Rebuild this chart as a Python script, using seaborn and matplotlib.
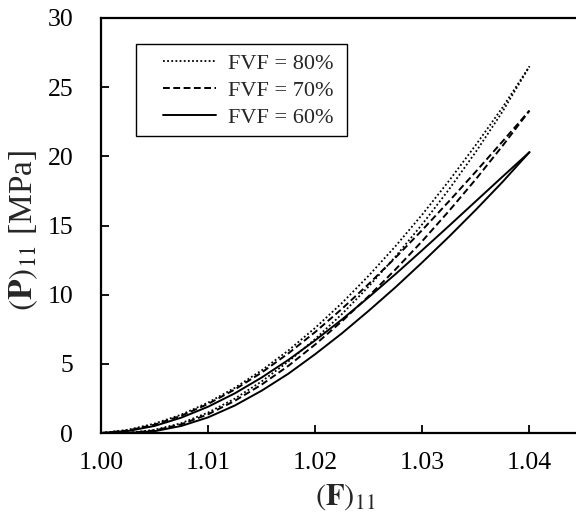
import matplotlib
matplotlib.use("Agg")
import matplotlib.pyplot as plt
from matplotlib.patches import Rectangle
import seaborn as sns
import pandas as pd

# ---- data ----
F_load = [1.0000, 1.0025, 1.0050, 1.0075, 1.0100, 1.0125, 1.0150, 1.0175, 1.0200,
          1.0225, 1.0250, 1.0275, 1.0300, 1.0325, 1.0350, 1.0375, 1.0400]
F_unload = [1.0025, 1.0050, 1.0075, 1.0100, 1.0125, 1.0150, 1.0175, 1.0200,
            1.0225, 1.0250, 1.0275, 1.0300, 1.0325, 1.0350, 1.0375, 1.0400]

load_80 = [0, 0.23, 0.68, 1.33, 2.20, 3.27, 4.53, 5.97, 7.60, 9.40, 11.38, 13.51, 15.80, 18.24, 20.83, 23.55, 26.5]
unload_80 = [0, 0.23, 0.71, 1.48, 2.49, 3.73, 5.17, 6.80, 8.60, 10.60, 12.76, 15.10, 17.62, 20.33, 23.25, 26.5]

load_70 = [0, 0.18, 0.60, 1.25, 2.10, 3.15, 4.37, 5.76, 7.30, 8.98, 10.78, 12.68, 14.68, 16.76, 18.90, 21.09, 23.3]
unload_70 = [0, 0.18, 0.63, 1.35, 2.33, 3.50, 4.86, 6.40, 8.08, 9.90, 11.83, 13.88, 16.06, 18.35, 20.77, 23.3]

load_60 = [0, 0.14, 0.51, 1.11, 1.90, 2.87, 4.01, 5.29, 6.70, 8.21, 9.82, 11.49, 13.22, 14.98, 16.76, 18.54, 20.3]
unload_60 = [0, 0.13, 0.51, 1.13, 1.99, 3.06, 4.29, 5.70, 7.21, 8.84, 10.54, 12.34, 14.20, 16.14, 18.16, 20.3]

labels = ["FVF = 80%", "FVF = 70%", "FVF = 60%"]
x_ticks = [1.00, 1.01, 1.02, 1.03, 1.04]
y_ticks = [0, 5, 10, 15, 20, 25, 30]

# ---- style ----
sns.set_style("ticks")
plt.rcParams["font.family"] = ["Liberation Serif", "DejaVu Serif"]
plt.rcParams["mathtext.fontset"] = "stix"

W, H = 576, 516
fig = plt.figure(figsize=(W / 100, H / 100), dpi=100)
ax = fig.add_axes([101 / W, 1 - 433 / H, 482 / W, 415 / H])

styles = [
    dict(linestyle=(0, (1, 1.3)), linewidth=1.3),
    dict(linestyle=(0, (3.5, 1.8)), linewidth=1.4),
    dict(linestyle="-", linewidth=1.4),
]
loads = [load_80, load_70, load_60]
unloads = [unload_80, unload_70, unload_60]

for lab, ld, ul, st in zip(labels, loads, unloads, styles):
    df_l = pd.DataFrame({"F": F_load, "P": ld})
    df_u = pd.DataFrame({"F": F_unload, "P": ul})
    sns.lineplot(data=df_l, x="F", y="P", ax=ax, color="black", sort=False,
                 estimator=None, label=lab, **st)
    sns.lineplot(data=df_u, x="F", y="P", ax=ax, color="black", sort=False,
                 estimator=None, label="_nolegend_", **st)

ax.set_xlim(1.0, 1.045)
ax.set_ylim(0, 30)
ax.set_xticks(x_ticks)
ax.set_xticklabels([f"{v:.2f}" for v in x_ticks])
ax.set_yticks(y_ticks)
ax.set_yticklabels([str(v) for v in y_ticks])
ax.tick_params(direction="in", length=6, width=1.3, labelsize=18.5, colors="black")
ax.tick_params(axis="x", pad=14)
ax.tick_params(axis="y", pad=20)

for sp in ax.spines.values():
    sp.set_linewidth(1.6)
    sp.set_color("black")
    sp.set_visible(True)

ax.set_xlabel(r"$(\mathbf{F})_{11}$", fontsize=22)
ax.xaxis.set_label_coords((345 - 101) / 482, (433 - 482) / 415)
ax.set_ylabel(r"$(\mathbf{P})_{11}$ [MPa]", fontsize=24)
ax.yaxis.set_label_coords((40 - 101) / 482, (433 - 230) / 415)

leg = ax.legend(loc="upper left", bbox_to_anchor=((152 - 101) / 482, (433 - 42) / 415),
                fontsize=16, frameon=False, handlelength=2.4, borderpad=0,
                labelspacing=0.3, handletextpad=0.5)
ax.add_patch(Rectangle(((136 - 101) / 482, (433 - 136) / 415), (347 - 136) / 482, (136 - 44) / 415,
                       transform=ax.transAxes, fill=False, edgecolor="black", linewidth=1.0,
                       zorder=5))

fig.savefig("out.png", dpi=100)
